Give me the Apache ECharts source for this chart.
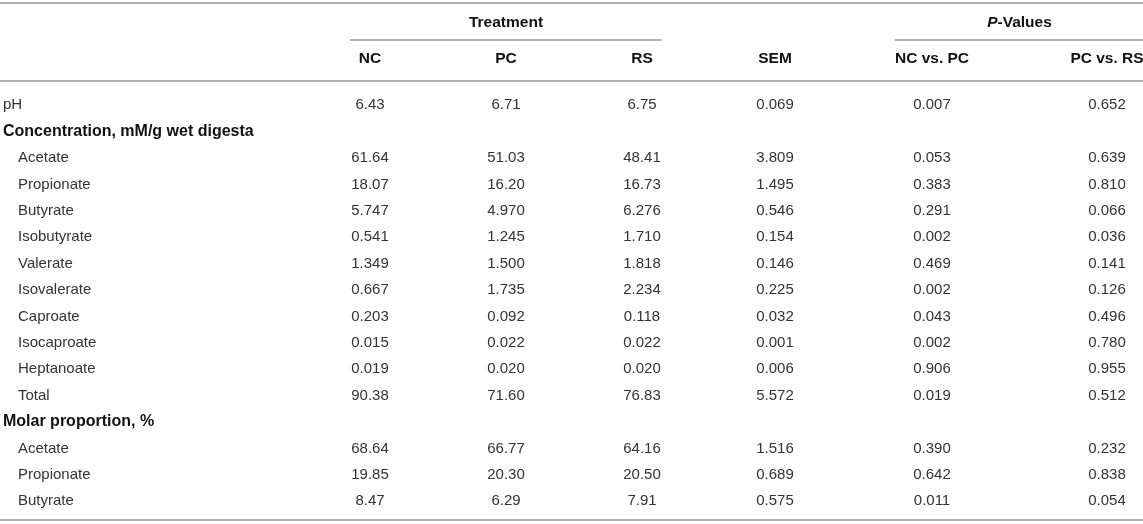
<!DOCTYPE html>
<html>
<head>
<meta charset="utf-8">
<script src="https://cdn.jsdelivr.net/npm/echarts@6/dist/echarts.min.js"></script>
<style>
  html, body { margin: 0; padding: 0; background: #fff; }
  #chart { width: 1143px; height: 524px; }
</style>
</head>
<body>
<div id="chart"></div>
<script>
// table content
const rowLabels = [
    'pH',
    'Concentration, mM/g wet digesta',
    'Acetate', 'Propionate', 'Butyrate', 'Isobutyrate', 'Valerate', 'Isovalerate',
    'Caproate', 'Isocaproate', 'Heptanoate', 'Total',
    'Molar proportion, %',
    'Acetate', 'Propionate', 'Butyrate',
]
const sectionRows = [1, 12]

const columns = ['NC', 'PC', 'RS', 'SEM', 'NC vs. PC', 'PC vs. RS']
const groupNames = ['Treatment', 'P-Values']
const groupSpans = [[0, 2], [4, 5]]

const nc    = ['6.43', null, '61.64', '18.07', '5.747', '0.541', '1.349', '0.667', '0.203', '0.015', '0.019', '90.38', null, '68.64', '19.85', '8.47']
const pc    = ['6.71', null, '51.03', '16.20', '4.970', '1.245', '1.500', '1.735', '0.092', '0.022', '0.020', '71.60', null, '66.77', '20.30', '6.29']
const rs    = ['6.75', null, '48.41', '16.73', '6.276', '1.710', '1.818', '2.234', '0.118', '0.022', '0.020', '76.83', null, '64.16', '20.50', '7.91']
const sem   = ['0.069', null, '3.809', '1.495', '0.546', '0.154', '0.146', '0.225', '0.032', '0.001', '0.006', '5.572', null, '1.516', '0.689', '0.575']
const pNcPc = ['0.007', null, '0.053', '0.383', '0.291', '0.002', '0.469', '0.002', '0.043', '0.002', '0.906', '0.019', null, '0.390', '0.642', '0.011']
const pPcRs = ['0.652', null, '0.639', '0.810', '0.066', '0.036', '0.141', '0.126', '0.496', '0.780', '0.955', '0.512', null, '0.232', '0.838', '0.054']
const columnValues = [nc, pc, rs, sem, pNcPc, pPcRs]

// layout (pixels, the x axis runs 0..width)
const W = 1143, H = 524
const colCenter = [370, 506, 642, 775, 932, 1107]
const labelX = 3, indentX = 18
const FONT = '"Liberation Sans", Arial, Helvetica, sans-serif'
const ruleColor = '#b0b0b0'

const bodyCells = []
rowLabels.forEach((label, r) => {
    const isSection = sectionRows.includes(r)
    bodyCells.push({
        x: (r === 0 || isSection) ? labelX : indentX, row: r, text: label,
        align: 'left', bold: isSection, size: isSection ? 16 : 15,
    })
    columnValues.forEach((vals, c) => {
        if (vals[r] != null) {
            bodyCells.push({ x: colCenter[c], row: r, text: vals[r], align: 'center', bold: false, size: 15 })
        }
    })
})

const headCells = []
groupNames.forEach((g, i) => {
    const [a, b] = groupSpans[i]
    headCells.push({ x: (colCenter[a] + colCenter[b]) / 2, row: 0, text: g, italicP: g.startsWith('P-') })
})
columns.forEach((c, i) => headCells.push({ x: colCenter[i], row: 1, text: c }))

function textItem(d, api, color) {
    const p = api.coord([d.x, d.row])
    const size = d.size || 15.5
    const style = {
        text: d.text,
        align: d.align || 'center',
        verticalAlign: 'middle',
        fill: color,
        font: (d.bold ? 'bold ' : '') + size + 'px ' + FONT,
    }
    if (d.italicP) {
        style.text = '{i|P}{b|-Values}'
        style.rich = {
            i: { fontStyle: 'italic', fontWeight: 'bold', fontSize: size, fontFamily: FONT, fill: color },
            b: { fontWeight: 'bold', fontSize: size, fontFamily: FONT, fill: color },
        }
    }
    return { type: 'text', x: p[0], y: p[1], style }
}

function hline(x1, x2, y) {
    return {
        type: 'line', silent: true,
        shape: { x1, y1: y, x2, y2: y },
        style: { stroke: ruleColor, lineWidth: 2 },
    }
}

const chart = echarts.init(document.getElementById('chart'), null, { renderer: 'canvas' })
chart.setOption({
    animation: false,
    backgroundColor: '#fff',
    grid: [
        { left: 0, right: 0, top: 5, height: 72 },
        { left: 0, right: 0, top: 92, height: 422.4 },
    ],
    xAxis: [
        { gridIndex: 0, type: 'value', min: 0, max: W, show: false },
        { gridIndex: 1, type: 'value', min: 0, max: W, show: false },
    ],
    yAxis: [
        { gridIndex: 0, type: 'category', data: ['group', 'column'], inverse: true, show: false },
        { gridIndex: 1, type: 'category', data: rowLabels.map((l, i) => i + ' ' + l), inverse: true, show: false },
    ],
    series: [
        {
            type: 'custom', xAxisIndex: 0, yAxisIndex: 0,
            data: headCells.map(d => [d.x, d.row]),
            renderItem: (params, api) => textItem(Object.assign({ bold: true }, headCells[params.dataIndex]), api, '#111'),
        },
        {
            type: 'custom', xAxisIndex: 1, yAxisIndex: 1,
            data: bodyCells.map(d => [d.x, d.row]),
            renderItem: (params, api) => {
                const d = bodyCells[params.dataIndex]
                return textItem(d, api, d.bold ? '#111' : '#333')
            },
        },
    ],
    graphic: [
        hline(0, W, 3),
        hline(colCenter[0] - 20, colCenter[2] + 20, 40),
        hline(colCenter[4] - 37, W, 40),
        hline(0, W, 81),
        hline(0, W, 520),
    ],
})
</script>
</body>
</html>
